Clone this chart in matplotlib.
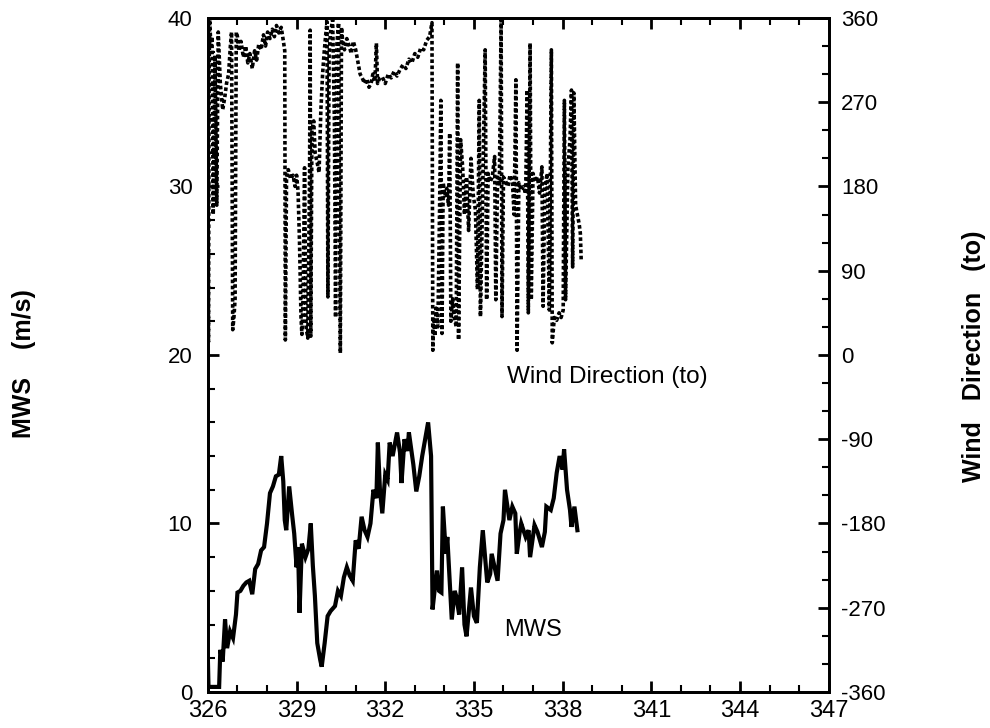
import numpy as np
import matplotlib
matplotlib.use('Agg')
import matplotlib.pyplot as plt
from matplotlib.ticker import MultipleLocator

plt.rcParams['font.family'] = ['Liberation Sans', 'DejaVu Sans']
plt.rcParams['axes.unicode_minus'] = False

# mean wind speed (m/s)
mws_day = [326.00, 326.02, 326.38, 326.42, 326.50, 326.58, 326.65, 326.75, 326.85, 326.95,
           327.00, 327.10, 327.20, 327.30, 327.40, 327.50, 327.60, 327.70, 327.80, 327.90,
           328.00, 328.10, 328.20, 328.30, 328.40, 328.48, 328.55, 328.60, 328.65, 328.75,
           328.85, 328.92, 329.00, 329.05, 329.10, 329.18, 329.30, 329.40, 329.48, 329.55,
           329.62, 329.70, 329.80, 329.85, 329.95, 330.05, 330.15, 330.30, 330.40, 330.50,
           330.60, 330.70, 330.80, 330.90, 331.00, 331.10, 331.20, 331.30, 331.40, 331.50,
           331.60, 331.70, 331.75, 331.82, 331.90, 332.00, 332.08, 332.15, 332.25, 332.40,
           332.50, 332.55, 332.65, 332.75, 332.80, 332.95, 333.05, 333.15, 333.25, 333.35,
           333.45, 333.55, 333.60, 333.70, 333.75, 333.82, 333.90, 333.95, 334.05, 334.10,
           334.20, 334.25, 334.35, 334.40, 334.50, 334.60, 334.68, 334.75, 334.85, 334.90,
           335.00, 335.10, 335.20, 335.30, 335.40, 335.45, 335.55, 335.60, 335.70, 335.80,
           335.90, 336.00, 336.05, 336.15, 336.20, 336.30, 336.40, 336.45, 336.55, 336.60,
           336.75, 336.85, 336.90, 337.05, 337.15, 337.30, 337.40, 337.45, 337.60, 337.70,
           337.80, 337.90, 338.00, 338.05, 338.15, 338.25, 338.30, 338.40, 338.50]
mws = [1.9, 0.3, 0.3, 2.5, 1.8, 4.3, 2.6, 3.6, 3.2, 4.6,
       5.9, 6.0, 6.3, 6.5, 6.6, 5.8, 7.3, 7.6, 8.4, 8.6,
       10.0, 11.8, 12.2, 12.8, 12.9, 14.0, 12.5, 10.2, 9.6, 12.2,
       10.5, 9.4, 7.4, 8.6, 4.7, 8.8, 8.0, 8.5, 10.0, 7.5,
       5.7, 2.9, 1.9, 1.5, 2.9, 4.5, 4.8, 5.1, 6.0, 5.7,
       6.8, 7.4, 6.9, 6.6, 9.0, 8.5, 10.4, 9.6, 9.2, 10.0,
       12.0, 11.5, 14.8, 12.0, 10.6, 12.9, 12.6, 14.8, 14.0, 15.4,
       14.2, 12.4, 15.0, 14.3, 15.4, 13.5, 11.9, 12.8, 14.0, 15.0,
       16.0, 14.0, 4.9, 6.5, 7.2, 6.0, 5.9, 11.0, 8.2, 9.2,
       6.0, 4.3, 6.0, 5.7, 4.6, 7.4, 4.0, 3.3, 5.2, 6.2,
       4.5, 4.1, 7.4, 9.6, 7.5, 6.5, 7.0, 8.2, 7.4, 6.6,
       9.4, 10.2, 12.0, 10.8, 10.2, 11.0, 10.6, 8.2, 9.5, 10.0,
       9.2, 9.6, 8.0, 9.9, 9.5, 8.6, 9.5, 11.0, 10.8, 11.5,
       13.0, 14.0, 13.2, 14.4, 12.0, 10.8, 9.8, 11.0, 9.6]

# wind direction (degrees, "to")
wd_day = [326.00, 326.02, 326.04, 326.06, 326.10, 326.14, 326.18, 326.24, 326.30, 326.35,
          326.42, 326.50, 326.57, 326.63, 326.70, 326.76, 326.80, 326.84, 326.88, 326.92,
          326.96, 327.00, 327.05, 327.12, 327.20, 327.28, 327.35, 327.42, 327.50, 327.58,
          327.65, 327.72, 327.80, 327.88, 327.95, 328.02, 328.10, 328.18, 328.25, 328.32,
          328.40, 328.48, 328.55, 328.60, 328.62, 328.66, 328.72, 328.80, 328.88, 328.95,
          329.00, 329.05, 329.10, 329.15, 329.18, 329.22, 329.27, 329.32, 329.38, 329.44,
          329.46, 329.48, 329.52, 329.58, 329.63, 329.70, 329.76, 329.82, 329.88, 329.93,
          329.98, 330.03, 330.06, 330.10, 330.15, 330.22, 330.28, 330.32, 330.36, 330.42,
          330.48, 330.52, 330.56, 330.62, 330.70, 330.78, 330.85, 330.92, 331.00, 331.08,
          331.15, 331.22, 331.30, 331.38, 331.45, 331.52, 331.58, 331.65, 331.70, 331.74,
          331.80, 331.90, 332.00, 332.10, 332.20, 332.30, 332.40, 332.50, 332.60, 332.70,
          332.80, 332.90, 333.00, 333.10, 333.20, 333.30, 333.40, 333.50, 333.58, 333.61,
          333.64, 333.68, 333.72, 333.78, 333.84, 333.88, 333.92, 333.96, 334.02, 334.08,
          334.14, 334.18, 334.22, 334.28, 334.34, 334.40, 334.45, 334.48, 334.55, 334.62,
          334.68, 334.75, 334.82, 334.90, 334.98, 335.05, 335.12, 335.18, 335.22, 335.30,
          335.38, 335.43, 335.48, 335.55, 335.62, 335.70, 335.74, 335.80, 335.86, 335.92,
          335.95, 336.00, 336.08, 336.15, 336.22, 336.30, 336.36, 336.42, 336.46, 336.52,
          336.60, 336.68, 336.75, 336.80, 336.84, 336.90, 336.94, 337.00, 337.08, 337.15,
          337.22, 337.30, 337.34, 337.40, 337.48, 337.55, 337.62, 337.65, 337.72, 337.80,
          337.88, 337.95, 338.02, 338.06, 338.10, 338.18, 338.25, 338.30, 338.34, 338.38,
          338.44, 338.50, 338.56, 338.60, 338.63]
wd = [240, 14, 300, 358, 330, 340, 150, 320, 160, 345,
      290, 262, 275, 290, 300, 330, 345, 27, 40, 60,
      345, 340, 325, 335, 318, 330, 312, 322, 306, 325,
      315, 332, 326, 342, 330, 345, 338, 348, 340, 352,
      344, 350, 336, 325, 16, 190, 198, 188, 192, 180,
      192, 175, 120, 40, 22, 60, 200, 30, 18, 190,
      347, 20, 240, 250, 215, 205, 195, 260, 300, 322,
      340, 356, 62, 320, 345, 358, 250, 40, 330, 355,
      2, 350, 335, 326, 338, 330, 322, 335, 326, 312,
      300, 296, 290, 295, 286, 290, 300, 292, 333, 290,
      295, 297, 290, 300, 296, 303, 298, 305, 310, 306,
      316, 312, 322, 318, 328, 326, 336, 340, 355, 5,
      40, 20, 50, 30, 160, 272, 23, 184, 170, 178,
      160, 237, 36, 60, 40, 30, 312, 16, 230, 200,
      150, 190, 133, 210, 170, 155, 70, 272, 41, 180,
      326, 59, 194, 185, 190, 212, 59, 190, 183, 358,
      41, 190, 185, 180, 192, 186, 150, 294, 5, 184,
      176, 180, 172, 283, 45, 333, 59, 194, 185, 190,
      173, 201, 52, 180, 194, 48, 326, 13, 40, 37,
      45, 40, 48, 272, 59, 200, 230, 283, 94, 280,
      160, 150, 140, 130, 100]

x_ticks = [326, 329, 332, 335, 338, 341, 344, 347]

fig = plt.figure(figsize=(9.9, 7.28), dpi=100)
ax = fig.add_axes([0.210, 0.0495, 0.627, 0.9258])
ax2 = ax.twinx()

ax.plot(mws_day, mws, color='black', lw=3.0, solid_joinstyle='miter')
ax2.plot(wd_day, wd, color='black', lw=2.6, linestyle=(0, (1, 0.7)))

ax.set_xlim(326, 347)
ax.set_ylim(0, 40)
ax2.set_ylim(-360, 360)

ax.set_xticks(x_ticks)
ax.set_xticklabels([str(t) for t in x_ticks])
ax.xaxis.set_minor_locator(MultipleLocator(1))
ax.set_yticks([0, 10, 20, 30, 40])
ax.yaxis.set_minor_locator(MultipleLocator(2))
ax2.set_yticks(np.arange(-360, 361, 90))
ax2.yaxis.set_minor_locator(MultipleLocator(30))

ax.tick_params(axis='both', which='major', direction='in', length=8, width=2, labelsize=16)
ax.tick_params(axis='both', which='minor', direction='in', length=5, width=1.5)
ax.tick_params(axis='x', which='both', top=True, pad=6)
ax.tick_params(axis='x', labelsize=17)
ax.tick_params(axis='y', which='both', right=False, pad=11)
ax2.tick_params(axis='y', which='major', direction='in', length=8, width=2, labelsize=16, pad=9)
ax2.tick_params(axis='y', which='minor', direction='in', length=5, width=1.5)

for a in (ax, ax2):
    for s in a.spines.values():
        s.set_linewidth(2)

ax.text(339.5, 18.7, 'Wind Direction (to)', fontsize=17.5, ha='center', va='center')
ax.text(337.0, 3.7, 'MWS', fontsize=17, ha='center', va='center')

fig.text(0.024, 0.50, 'MWS    (m/s)', rotation=90, fontsize=18, fontweight='bold',
         ha='center', va='center')
fig.text(0.984, 0.51, 'Wind   Direction   (to)', rotation=90, fontsize=18, fontweight='bold',
         ha='center', va='center')

fig.savefig('out.png', dpi=100)
